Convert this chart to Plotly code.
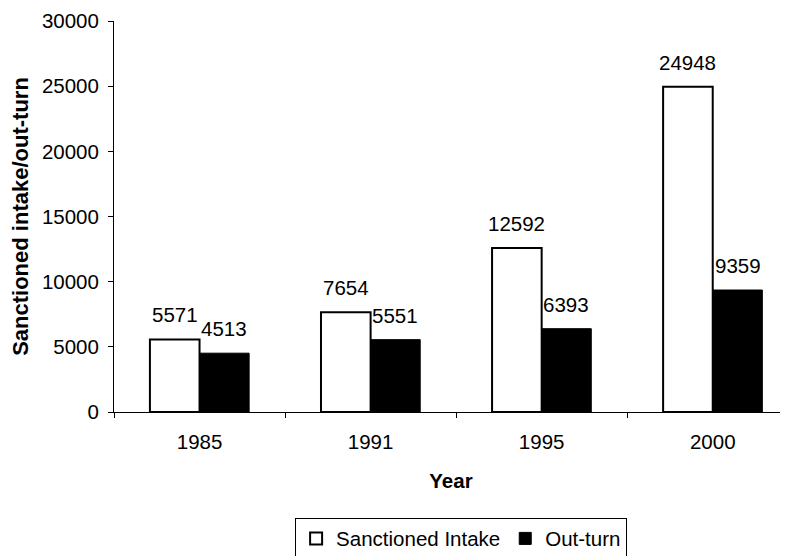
import plotly.graph_objects as go

years = ["1985", "1991", "1995", "2000"]
sanctioned_intake = [5571, 7654, 12592, 24948]
out_turn = [4513, 5551, 6393, 9359]
y_ticks = [0, 5000, 10000, 15000, 20000, 25000, 30000]

FONT = "Liberation Sans, Arial, sans-serif"
FS = 20.5

fig = go.Figure()
fig.add_trace(go.Bar(
    x=years, y=sanctioned_intake, name="Sanctioned Intake",
    marker=dict(color="white", line=dict(color="black", width=2)),
))
fig.add_trace(go.Bar(
    x=years, y=out_turn, name="Out-turn",
    marker=dict(color="black", line=dict(color="black", width=1)),
))

bargap = 0.42
half = (1 - bargap) / 4
annotations = []
for i, (a, b) in enumerate(zip(sanctioned_intake, out_turn)):
    for off, v in ((-half, a), (half, b)):
        annotations.append(dict(
            x=i + off, y=v, xref="x", yref="y", text=str(v),
            showarrow=False, yanchor="bottom", yshift=11,
            font=dict(family=FONT, size=FS, color="black"),
        ))

# page body has an 8px margin, so the figure is sized/placed to compensate
fig.update_layout(
    width=780, height=548,
    margin=dict(l=106, r=0, t=13, b=144, autoexpand=False),
    paper_bgcolor="white", plot_bgcolor="white",
    barmode="group", bargap=bargap, bargroupgap=0,
    font=dict(family=FONT, size=FS, color="black"),
    showlegend=True,
    legend=dict(
        orientation="h", x=0.515, y=-0.27, xanchor="center", yanchor="top",
        bordercolor="black", borderwidth=1, font=dict(size=FS),
        itemwidth=30, tracegroupgap=0,
    ),
    annotations=annotations,
    xaxis=dict(
        type="category", range=[-0.5, 3.44], automargin=False,
        showline=True, linecolor="black", linewidth=1,
        ticks="outside", tickson="boundaries", ticklen=5, tickcolor="black",
        showgrid=False, ticklabelstandoff=11,
        tickfont=dict(size=FS),
        title=dict(text="<b>Year</b>", standoff=22, font=dict(size=FS)),
    ),
    yaxis=dict(
        range=[0, 30000], tickvals=y_ticks, tickformat="d", automargin=False,
        showline=True, linecolor="black", linewidth=1,
        ticks="outside", ticklen=5, tickcolor="black",
        showgrid=False, zeroline=False, ticklabelstandoff=5,
        ticklabeloverflow="allow",
        tickfont=dict(size=FS),
        title=dict(text="<b>Sanctioned intake/out-turn</b>", standoff=9, font=dict(size=22)),
    ),
)

fig.write_html("out.html")
